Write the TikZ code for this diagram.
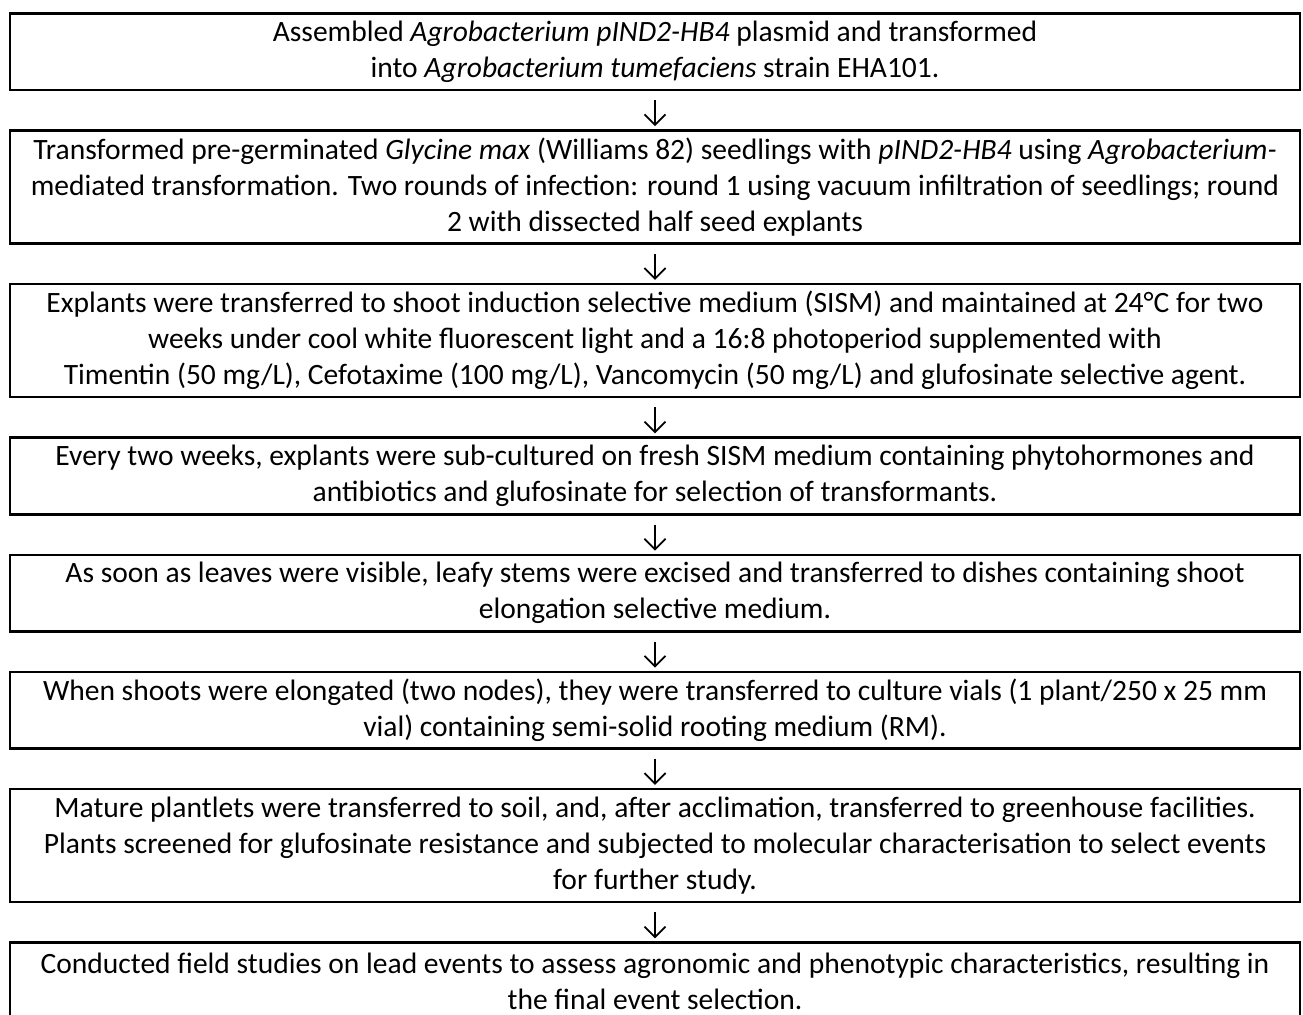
\documentclass[tikz,border=0pt]{standalone}
\usepackage{fontspec}
\setmainfont{Carlito}
\usetikzlibrary{positioning,arrows.meta}

\begin{document}
\begin{tikzpicture}[x=0.1mm,y=-0.1mm,
  stepbox/.style={draw, line width=0.75pt, minimum width=129mm, inner sep=0pt,
    align=center, font=\fontsize{8.4}{10.24}\selectfont},
  twoline/.style={minimum height=7.65mm},
  threeline/.style={minimum height=11.3mm},
  flow/.style={-{Straight Barb[length=3pt,width=6pt]}, line width=0.5pt,
    shorten <=0.9mm, shorten >=0.3mm}]

\useasboundingbox (0,0) rectangle (1303,1014);

\node[stepbox, twoline, anchor=north] (s1) at (655,12)
  {Assembled \textit{Agrobacterium pIND2-HB4} plasmid and transformed\\
   into \textit{Agrobacterium tumefaciens} strain EHA101.};
\node[stepbox, threeline, below=3.8mm of s1] (s2)
  {Transformed pre-germinated \textit{Glycine max} (Williams 82) seedlings with \textit{pIND2-HB4} using \textit{Agrobacterium-}\\
   mediated transformation. Two rounds of infection: round 1 using vacuum infiltration of seedlings; round\\
   2 with dissected half seed explants};
\node[stepbox, threeline, below=3.8mm of s2] (s3)
  {Explants were transferred to shoot induction selective medium (SISM) and maintained at 24°C for two\\
   weeks under cool white fluorescent light and a 16:8 photoperiod supplemented with\\
   Timentin (50 mg/L), Cefotaxime (100 mg/L), Vancomycin (50 mg/L) and glufosinate selective agent.};
\node[stepbox, twoline, below=3.8mm of s3] (s4)
  {Every two weeks, explants were sub-cultured on fresh SISM medium containing phytohormones and\\
   antibiotics and glufosinate for selection of transformants.};
\node[stepbox, twoline, below=3.8mm of s4] (s5)
  {As soon as leaves were visible, leafy stems were excised and transferred to dishes containing shoot\\
   elongation selective medium.};
\node[stepbox, twoline, below=3.8mm of s5] (s6)
  {When shoots were elongated (two nodes), they were transferred to culture vials (1 plant/250 x 25 mm\\
   vial) containing semi-solid rooting medium (RM).};
\node[stepbox, threeline, below=3.8mm of s6] (s7)
  {Mature plantlets were transferred to soil, and, after acclimation, transferred to greenhouse facilities.\\
   Plants screened for glufosinate resistance and subjected to molecular characterisation to select events\\
   for further study.};
\node[stepbox, twoline, below=3.8mm of s7] (s8)
  {Conducted field studies on lead events to assess agronomic and phenotypic characteristics, resulting in\\
   the final event selection.};

\foreach \a/\b in {s1/s2,s2/s3,s3/s4,s4/s5,s5/s6,s6/s7,s7/s8}
  \draw[flow] (\a) -- (\b);

\end{tikzpicture}
\end{document}
